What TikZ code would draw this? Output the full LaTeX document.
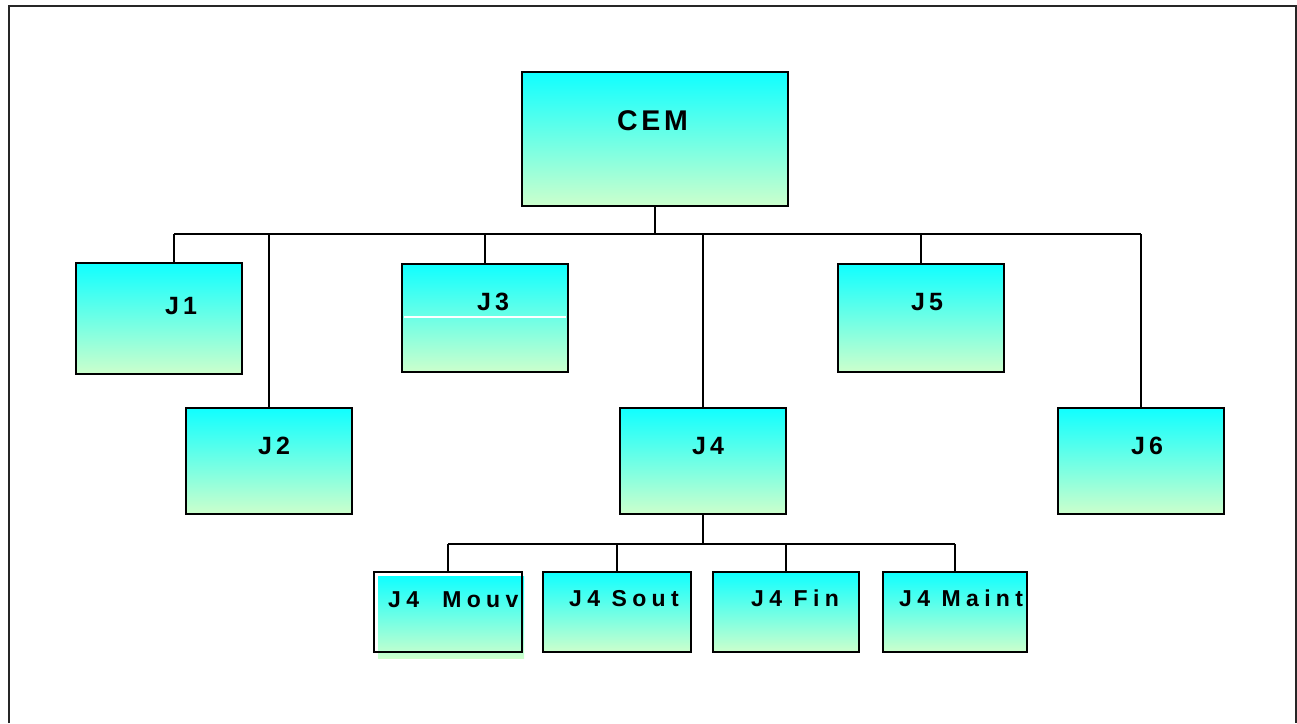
\documentclass[tikz,border=0pt]{standalone}
\usepackage{fontspec}
\setmainfont{Liberation Sans}
\newfontfamily\spaced{Liberation Sans Bold}[LetterSpace=16]
\newfontfamily\cspaced{Liberation Sans Bold}[LetterSpace=13]
\newfontfamily\sspaced{Liberation Sans Bold}[LetterSpace=23]
\definecolor{boxtop}{RGB}{16,255,255}
\definecolor{boxbot}{RGB}{204,255,204}
\tikzset{
  jbox/.style={rectangle, draw=black, line width=2pt, inner sep=0pt, outer sep=0pt,
    top color=boxtop, bottom color=boxbot, shading angle=0},
  jframe/.style={rectangle, draw=black, line width=2pt, inner sep=0pt, outer sep=0pt},
  jtext/.style={anchor=base west, inner sep=0pt, font=\spaced\fontsize{25}{27}\selectfont},
  stext/.style={jtext, font=\sspaced\fontsize{23}{25}\selectfont},
  ctext/.style={jtext, font=\cspaced\fontsize{28.5}{30}\selectfont},
  wire/.style={draw=black, line width=2pt},
}
% box from corner (x1,y1) to corner (x2,y2), y measured downwards
\newcommand\orgbox[6][jbox]{%
  \node[#1, minimum width={(#5-#3)*1pt}, minimum height={(#6-#4)*1pt}]
    (#2) at ({(#3+#5)/2},{(#4+#6)/2}) {};}
\begin{document}
\begin{tikzpicture}[x=1pt, y=-1pt]
\useasboundingbox (0,0) rectangle (1297,723);
% outer frame, open at the bottom
\draw[line width=2pt, black!85] (9,723) -- (9,6) -- (1296,6) -- (1296,723);

% boxes
\orgbox{cem}{522}{72}{788}{206}
\orgbox{j1}{76}{263}{242}{374}
\orgbox{j2}{186}{408}{352}{514}
\orgbox{j3}{402}{264}{568}{372}
\orgbox{j4}{620}{408}{786}{514}
\orgbox{j5}{838}{264}{1004}{372}
\orgbox{j6}{1058}{408}{1224}{514}
% the first sub-box has its fill shifted against its frame
\fill[top color=boxtop, bottom color=boxbot] (378,576) rectangle (524,658);
\orgbox[jframe]{mouv}{374}{572}{522}{652}
\orgbox{sout}{543}{572}{691}{652}
\orgbox{fin}{713}{572}{859}{652}
\orgbox{maint}{883}{572}{1027}{652}
% white rule across J3
\draw[white, line width=2pt] (404,317) -- (566,317);

% labels
\node[ctext] (tcem) at (617,130) {CEM};
\node[jtext] (tj1) at (165,314) {J1};
\node[jtext] (tj2) at (258,454) {J2};
\node[jtext] (tj3) at (477,310) {J3};
\node[jtext] (tj4) at (692,454) {J4};
\node[jtext] (tj5) at (911,310) {J5};
\node[jtext] (tj6) at (1131,454) {J6};
\node[stext] (tmouv) at (388,607) {J4~~Mouv};
\node[stext] (tsout) at (569,606) {J4 Sout};
\node[stext] (tfin) at (751,606) {J4 Fin};
\node[stext] (tmaint) at (899,606) {J4 Maint};

% upper tree
\coordinate (bus) at (655,234);
\coordinate (b1) at (174,234);
\draw[wire] (cem.south) -- (bus);
\draw[wire] (b1) -- (j6.north |- bus);
\draw[wire] (b1) -- (b1 |- j1.north);
\draw[wire] (j2.north |- bus) -- (j2.north);
\draw[wire] (j3.north |- bus) -- (j3.north);
\draw[wire] (j4.north |- bus) -- (j4.north);
\draw[wire] (j5.north |- bus) -- (j5.north);
\draw[wire] (j6.north |- bus) -- (j6.north);

% lower tree
\coordinate (bus2) at (703,544);
\draw[wire] (j4.south) -- (bus2);
\draw[wire] (mouv.north |- bus2) -- (maint.north |- bus2);
\draw[wire] (mouv.north |- bus2) -- (mouv.north);
\draw[wire] (sout.north |- bus2) -- (sout.north);
\draw[wire] (fin.north |- bus2) -- (fin.north);
\draw[wire] (maint.north |- bus2) -- (maint.north);
\end{tikzpicture}
\end{document}
